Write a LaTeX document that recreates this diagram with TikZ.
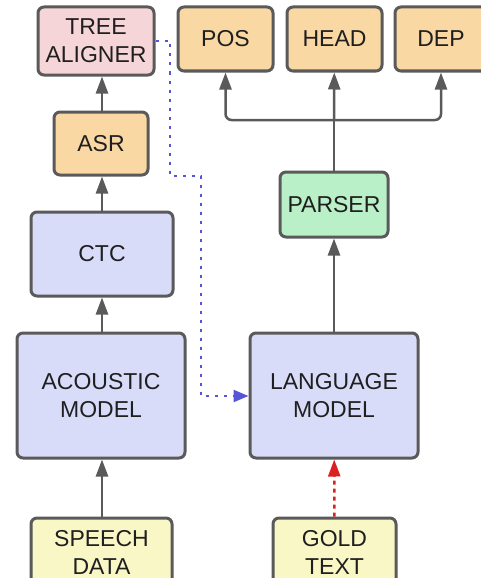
\documentclass[tikz,border=0pt]{standalone}
\usepackage{fontspec}
\setmainfont{Liberation Sans}
\usetikzlibrary{arrows.meta}
\definecolor{boxline}{HTML}{5A5A5A}
\definecolor{pinkfill}{HTML}{F6D5D8}
\definecolor{orangefill}{HTML}{F9D8A4}
\definecolor{lilacfill}{HTML}{D9DCF9}
\definecolor{greenfill}{HTML}{B9F0C8}
\definecolor{yellowfill}{HTML}{FAF7C6}
\definecolor{dotblue}{HTML}{5555D8}
\definecolor{dotred}{HTML}{DD2020}
\tikzset{
	block/.style={draw=boxline, line width=3pt, rounded corners=6pt, align=center, text=black!88, font=\fontsize{23}{28}\selectfont},
	grey arrow/.style={draw=boxline, line width=2.5pt, -{Triangle[length=17pt,width=12pt]}},
	blue link/.style={draw=dotblue, line width=2.2pt, dash pattern=on 3pt off 6pt, -{Triangle[length=15pt,width=12pt]}},
	red link/.style={draw=dotred, line width=2.5pt, dash pattern=on 4pt off 4pt, -{Triangle[length=17pt,width=12pt]}}
}

\begin{document}
\begin{tikzpicture}[x=1pt, y=-1pt]
			%%%%% START %%%%%
			
			\clip (0, 0) rectangle (481, 578);
			\fill[white] (0, 0) rectangle (481, 578);
			
			\node[block, fill=pinkfill, minimum width=116pt, minimum height=68pt] (aligner) at (96, 41) {TREE\\ALIGNER};
			\node[block, fill=orangefill, minimum width=94pt, minimum height=63pt] (asr) at (101, 143.5) {ASR};
			\node[block, fill=lilacfill, minimum width=142pt, minimum height=84pt] (ctc) at (102, 254) {CTC};
			\node[block, fill=lilacfill, minimum width=168pt, minimum height=125pt] (acoustic) at (101, 395.5) {ACOUSTIC\\MODEL};
			\node[block, fill=yellowfill, minimum width=141pt, minimum height=68pt] (speech) at (101.5, 552) {SPEECH\\DATA};
			
			\node[block, fill=orangefill, minimum width=95pt, minimum height=64pt] (pos) at (225.5, 39) {POS};
			\node[block, fill=orangefill, minimum width=95pt, minimum height=64pt] (head) at (334.5, 39) {HEAD};
			\node[block, fill=orangefill, minimum width=92pt, minimum height=64pt] (dep) at (441, 39) {DEP};
			\node[block, fill=greenfill, minimum width=108pt, minimum height=65pt] (parser) at (334, 204.5) {PARSER};
			\node[block, fill=lilacfill, minimum width=168pt, minimum height=125pt] (language) at (334, 395.5) {LANGUAGE\\MODEL};
			\node[block, fill=yellowfill, minimum width=123pt, minimum height=68pt] (gold) at (334.5, 552) {GOLD\\TEXT};
			
			\coordinate (leftline) at (102, 0);
			\coordinate (fork) at (334, 120);
			
			\draw[grey arrow] (speech.north -| leftline) -- (acoustic.south -| leftline);
			\draw[grey arrow] (acoustic.north -| leftline) -- (ctc.south -| leftline);
			\draw[grey arrow] (ctc.north -| leftline) -- (asr.south -| leftline);
			\draw[grey arrow] (asr.north -| leftline) -- (aligner.south -| leftline);
			
			\draw[grey arrow] (language) -- (parser);
			\draw[draw=boxline, line width=2.5pt] (parser) -- (fork);
			\draw[grey arrow, rounded corners=6pt] (fork) -| (pos.south);
			\draw[grey arrow] (fork) -- (head);
			\draw[grey arrow, rounded corners=6pt] (fork) -| (dep.south);
			
			\draw[red link] (gold) -- (language);
			\draw[blue link] (aligner.east |- 0, 41) -- (170, 41) -- (170, 176) -- (201, 176) -- (201, 396) -- (language.west |- 0, 396);
			
			%%%%% END %%%%%
		\end{tikzpicture}
\end{document}
